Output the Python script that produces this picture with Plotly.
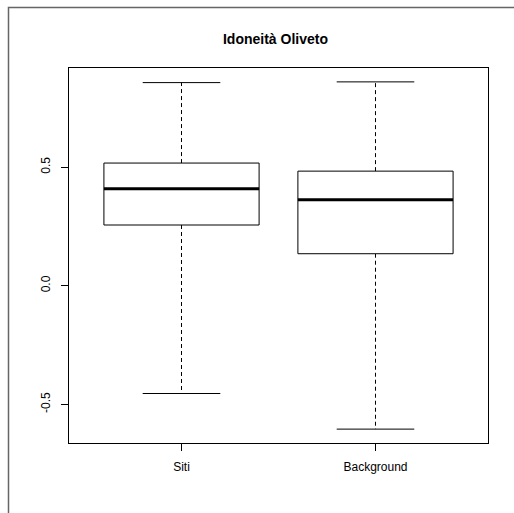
import plotly.graph_objects as go

# Box-plot summary statistics per group
groups = ["Siti", "Background"]
whisker_low = [-0.454, -0.604]
q1 = [0.256, 0.135]
median = [0.409, 0.362]
q3 = [0.517, 0.483]
whisker_high = [0.856, 0.859]

y_ticks = [-0.5, 0.0, 0.5]
y_tick_labels = ["-0.5", "0.0", "0.5"]

BOX_HALF = 0.4
CAP_HALF = 0.2
FONT = "Liberation Sans, Arial, Helvetica, sans-serif"

fig = go.Figure()

for i, name in enumerate(groups):
    x = i + 1
    # dashed whiskers
    fig.add_trace(go.Scatter(
        x=[x, x, None, x, x],
        y=[q3[i], whisker_high[i], None, q1[i], whisker_low[i]],
        mode="lines", line=dict(color="black", width=1, dash="4px,3px"),
        hoverinfo="skip", showlegend=False))
    # staples
    fig.add_trace(go.Scatter(
        x=[x - CAP_HALF, x + CAP_HALF, None, x - CAP_HALF, x + CAP_HALF],
        y=[whisker_high[i], whisker_high[i], None, whisker_low[i], whisker_low[i]],
        mode="lines", line=dict(color="black", width=1),
        hoverinfo="skip", showlegend=False))
    # box
    fig.add_trace(go.Scatter(
        x=[x - BOX_HALF, x + BOX_HALF, x + BOX_HALF, x - BOX_HALF, x - BOX_HALF],
        y=[q1[i], q1[i], q3[i], q3[i], q1[i]],
        mode="lines", line=dict(color="black", width=1),
        fill="toself", fillcolor="white",
        hoverinfo="skip", showlegend=False))
    # median
    fig.add_trace(go.Scatter(
        x=[x - BOX_HALF, x + BOX_HALF],
        y=[median[i], median[i]],
        mode="lines", line=dict(color="black", width=3),
        hoverinfo="skip", showlegend=False))

lo = min(whisker_low)
hi = max(whisker_high)
pad = 0.04 * (hi - lo)

W, H = 514, 513
ml, mr, mt, mb = 69, 26, 68, 70
pw, ph = W - ml - mr, H - mt - mb

def px_to_paper_x(px):
    return (px - ml) / pw

def px_to_paper_y(py):
    return (H - mb - py) / ph

fig.update_layout(
    width=W, height=H,
    margin=dict(l=ml, r=mr, t=mt, b=mb),
    paper_bgcolor="white", plot_bgcolor="white",
    font=dict(family=FONT, size=12, color="black"),
    title=dict(text="<b>Idoneità Oliveto</b>", font=dict(family=FONT, size=14, color="black"),
               x=275.5 / W, xanchor="center", xref="container",
               y=1 - 39 / H, yanchor="middle", yref="container"),
    xaxis=dict(range=[0.42, 2.58], tickvals=[1, 2], ticktext=groups,
               showgrid=False, zeroline=False, showline=True, mirror=True,
               linecolor="black", linewidth=1, ticks="outside", ticklen=7,
               tickcolor="black", tickfont=dict(size=12), ticklabelstandoff=6),
    yaxis=dict(range=[lo - pad, hi + pad], tickvals=y_ticks, ticktext=y_tick_labels,
               tickangle=-90, showgrid=False, zeroline=False, showline=True, mirror=True,
               linecolor="black", linewidth=1, ticks="outside", ticklen=7,
               tickcolor="black", tickfont=dict(size=12), ticklabelstandoff=6),
    shapes=[dict(type="rect", xref="paper", yref="paper",
                 x0=px_to_paper_x(8.5), y0=px_to_paper_y(530),
                 x1=px_to_paper_x(530), y1=px_to_paper_y(7.5),
                 line=dict(color="#666666", width=1.5), layer="below")],
)

fig.write_html("out.html")
